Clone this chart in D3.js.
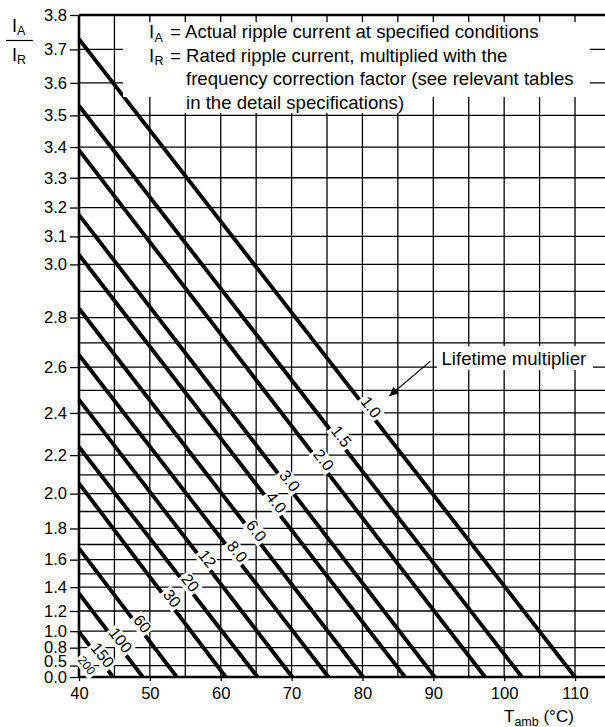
<!DOCTYPE html>
<html>
<head>
<meta charset="utf-8">
<script src="https://cdn.jsdelivr.net/npm/d3@7"></script>
<style>
  html, body { margin: 0; padding: 0; background: #fff; }
  svg { display: block; font-family: "Liberation Sans", Arial, Helvetica, sans-serif; }
</style>
</head>
<body>
<svg id="chart" width="605" height="727"></svg>
<script>
// Lifetime multiplier lines: each runs from its I_A/I_R ratio at 40 °C
// straight down to I_A/I_R = 0 at the ambient temperature given below.
const multipliers = ["1.0", "1.5", "2.0", "3.0", "4.0", "6.0", "8.0", "12", "20", "30", "60", "100", "150", "200"];
const ratioAt40   = [3.73, 3.53, 3.39, 3.175, 3.035, 2.835, 2.65, 2.46, 2.24, 2.055, 1.675, 1.35, 0.995, 0.58];
const tempAtZero  = [110, 102.5, 97.3, 90.2, 86.0, 80.1, 75.2, 70.1, 65.2, 60.7, 53.8, 49.0, 44.8, 41.8];
// ambient temperature at which each multiplier label sits on its line
const labelTemp   = [80.7, 76.5, 74.0, 69.2, 67.3, 64.5, 61.8, 57.6, 55.2, 52.6, 48.4, 45.35, 42.8, 40.7];

const xTickValues = [40, 50, 60, 70, 80, 90, 100, 110];
const xGridValues = [45, 50, 55, 60, 65, 70, 75, 80, 85, 90, 95, 100, 105, 110, 115];
const yTickValues = [0.0, 0.5, 0.8, 1.0, 1.2, 1.4, 1.6, 1.8, 2.0, 2.2, 2.4, 2.6, 2.8, 3.0, 3.1, 3.2, 3.3, 3.4, 3.5, 3.6, 3.7, 3.8];
const yGridValues = [0.5, 0.8, 1.0, 1.2, 1.4, 1.5, 1.6, 1.7, 1.8, 1.9, 2.0, 2.1, 2.2, 2.3, 2.4, 2.5, 2.6, 2.7, 2.8, 2.9, 3.0, 3.1, 3.2, 3.3, 3.4, 3.5, 3.6, 3.7];

const legendLines = [
  { sym: "I", sub: "A", text: "= Actual ripple current at specified conditions" },
  { sym: "I", sub: "R", text: "= Rated ripple current, multiplied with the" },
  { text: "frequency correction factor (see relevant tables" },
  { text: "in the detail specifications)" }
];
const calloutText = "Lifetime multiplier";

const svg = d3.select("#chart");
const plotLeft = 79, plotTop = 15, plotBottom = 677, pxPerDeg = 7.086;
const noteSize = 18.6, axisSize = 16.6, subSize = 12.5;

const x = d3.scaleLinear().domain([40, 115]).range([plotLeft, plotLeft + 75 * pxPerDeg]);
// ripple heating goes with I², so the ratio axis is quadratic
const y = d3.scalePow().exponent(2).domain([0, 3.8]).range([plotBottom, plotTop]);

const xMin = 40, xMax = 115, yMax = 3.8;

// grid
const grid = svg.append("g").attr("stroke", "#000").attr("stroke-width", 1.3);
grid.selectAll("line.h").data(yGridValues).join("line")
  .attr("class", "h")
  .attr("x1", x(xMin)).attr("x2", x(xMax))
  .attr("y1", d => y(d)).attr("y2", d => y(d));
grid.selectAll("line.v").data(xGridValues).join("line")
  .attr("class", "v")
  .attr("y1", y(0)).attr("y2", y(yMax))
  .attr("x1", d => x(d)).attr("x2", d => x(d));

// lifetime lines
const lines = multipliers.map((m, i) => ({ m, r0: ratioAt40[i], t0: tempAtZero[i], tl: labelTemp[i] }));
svg.append("g").selectAll("line").data(lines).join("line")
  .attr("x1", d => x(40)).attr("y1", d => y(d.r0))
  .attr("x2", d => x(d.t0)).attr("y2", d => y(0))
  .attr("stroke", "#000").attr("stroke-width", 3.9);

// frame: top, left and bottom edges
svg.append("line").attr("x1", x(xMin)).attr("x2", x(xMax)).attr("y1", y(yMax)).attr("y2", y(yMax))
  .attr("stroke", "#000").attr("stroke-width", 2.6);

const yAxis = svg.append("g").attr("transform", `translate(${x(xMin)},0)`)
  .call(d3.axisLeft(y).tickValues(yTickValues).tickFormat(d3.format(".1f")).tickSize(9).tickPadding(3));
const xAxis = svg.append("g").attr("transform", `translate(0,${y(0)})`)
  .call(d3.axisBottom(x).tickValues(xTickValues).tickFormat(d3.format("d")).tickSize(4).tickPadding(6));
[yAxis, xAxis].forEach(a => {
  a.select(".domain").attr("stroke-width", 2.6).attr("stroke", "#000");
  a.selectAll(".tick line").attr("stroke-width", 1.3).attr("stroke", "#000");
  a.selectAll("text").attr("font-size", axisSize).attr("fill", "#000")
    .attr("font-family", '"Liberation Sans", Arial, sans-serif');
});
yAxis.select(".domain").attr("d", `M0,${y(0)}V${y(yMax)}`);
xAxis.select(".domain").attr("d", `M${x(xMin)},0H${x(xMax)}`);
// 0.5 sits tight against 0.0, lift its label slightly
yAxis.selectAll(".tick").filter(d => d === 0.5).select("text").attr("y", -4);

// multiplier labels, rotated along their lines with the baseline on the line
const angle = Math.atan2(y(0) - y(ratioAt40[0]), x(tempAtZero[0]) - x(40)) * 180 / Math.PI;
const lab = svg.append("g").selectAll("g").data(lines).join("g")
  .attr("transform", d => {
    const r = d.r0 * Math.sqrt((d.t0 - d.tl) / (d.t0 - 40));
    return `translate(${x(d.tl)},${y(r)}) rotate(${angle})`;
  });
lab.append("text")
  .attr("text-anchor", "middle").attr("dy", "0.05em")
  .attr("font-size", d => d.m === "200" ? 12 : 16)
  .text(d => d.m);
lab.each(function () {
  const g = d3.select(this);
  const b = g.select("text").node().getBBox();
  g.insert("rect", "text")
    .attr("x", b.x - 2).attr("y", b.y + 1.5).attr("width", b.width + 4).attr("height", b.height - 1)
    .attr("fill", "#fff");
});

// legend block
svg.append("rect").attr("x", 123).attr("y", 22).attr("width", 467).attr("height", 75).attr("fill", "#fff");
svg.append("rect").attr("x", 183).attr("y", 90).attr("width", 226).attr("height", 23).attr("fill", "#fff");
const leg = svg.append("g").attr("font-size", noteSize).attr("fill", "#000");
legendLines.forEach((l, i) => {
  const by = 38.3 + i * 23.4;
  if (l.sym) {
    leg.append("text").attr("x", 149).attr("y", by).text(l.sym);
    leg.append("text").attr("x", 154.5).attr("y", by + 3.5).attr("font-size", subSize).text(l.sub);
    leg.append("text").attr("x", 170).attr("y", by).text(l.text);
  } else {
    leg.append("text").attr("x", 186).attr("y", by).text(l.text);
  }
});

// callout with arrow to the 1.0 line
svg.append("defs").append("marker")
  .attr("id", "arrow").attr("viewBox", "0 0 10 10").attr("refX", 10).attr("refY", 5)
  .attr("markerWidth", 13).attr("markerHeight", 9).attr("markerUnits", "userSpaceOnUse")
  .attr("orient", "auto")
  .append("path").attr("d", "M0,0L10,5L0,10z").attr("fill", "#000");
svg.append("rect").attr("x", 437).attr("y", 346).attr("width", 156).attr("height", 24).attr("fill", "#fff");
svg.append("text").attr("x", 441.5).attr("y", 364.5).attr("font-size", noteSize).text(calloutText);
svg.append("line")
  .attr("x1", x(89.6)).attr("y1", y(2.625))
  .attr("x2", x(83.8)).attr("y2", y(2.476))
  .attr("stroke", "#000").attr("stroke-width", 1.2).attr("marker-end", "url(#arrow)");

// axis titles
const yt = svg.append("g").attr("font-size", 18);
yt.append("text").attr("x", 12).attr("y", 32).text("I");
yt.append("text").attr("x", 17).attr("y", 35).attr("font-size", subSize).text("A");
yt.append("line").attr("x1", 6).attr("x2", 33).attr("y1", 40.5).attr("y2", 40.5).attr("stroke", "#000").attr("stroke-width", 1.2);
yt.append("text").attr("x", 12).attr("y", 61).text("I");
yt.append("text").attr("x", 17).attr("y", 64).attr("font-size", subSize).text("R");

const xt = svg.append("text").attr("x", 504).attr("y", 722).attr("font-size", 17);
xt.append("tspan").text("T");
xt.append("tspan").attr("font-size", subSize).attr("dy", 4).text("amb");
xt.append("tspan").attr("dy", -4).text(" (°C)");
</script>
</body>
</html>
